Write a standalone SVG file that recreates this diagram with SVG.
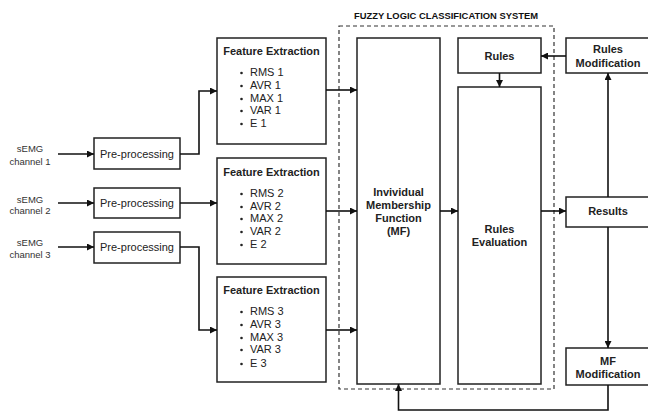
<svg xmlns="http://www.w3.org/2000/svg" width="648" height="412" viewBox="0 0 648 412">
<defs>
<marker id="ah" viewBox="0 0 10 10" refX="10" refY="5" markerWidth="7" markerHeight="7" markerUnits="userSpaceOnUse" orient="auto">
<path d="M0,0 L10,5 L0,10 z" fill="#111"/>
</marker>
</defs>
<style>
.box{fill:#fff;stroke:#222;stroke-width:1.5}
.t{font-family:"Liberation Sans",Arial,sans-serif;font-size:11px;fill:#222}
.b{font-weight:bold}
.c{text-anchor:middle}
.lbl{font-family:"Liberation Sans",Arial,sans-serif;font-size:9.5px;fill:#333;text-anchor:middle}
.ttl{font-family:"Liberation Sans",Arial,sans-serif;font-size:9.4px;font-weight:bold;fill:#111;text-anchor:middle}
.con{fill:none;stroke:#111;stroke-width:1.6;marker-end:url(#ah)}
.dash{fill:none;stroke:#333;stroke-width:1.2;stroke-dasharray:4,3}
.dot{fill:#222}
</style>
<rect width="648" height="412" fill="#fff"/>

<g id="system">
<rect class="dash" x="339" y="26" width="215" height="363"/>
<text class="ttl" x="446" y="18.5">FUZZY LOGIC CLASSIFICATION SYSTEM</text>
</g>

<g id="ch1"><text class="lbl" x="30" y="151.5">sEMG</text><text class="lbl" x="30" y="164.5">channel 1</text></g>
<g id="ch2"><text class="lbl" x="30" y="202.5">sEMG</text><text class="lbl" x="30" y="214">channel 2</text></g>
<g id="ch3"><text class="lbl" x="30" y="245.5">sEMG</text><text class="lbl" x="30" y="257.5">channel 3</text></g>

<g id="pre1"><rect class="box" x="94" y="138" width="86" height="31"/><text class="t c" x="137" y="158">Pre-processing</text></g>
<g id="pre2"><rect class="box" x="94" y="188" width="86" height="30"/><text class="t c" x="137" y="207">Pre-processing</text></g>
<g id="pre3"><rect class="box" x="94" y="232" width="86" height="31"/><text class="t c" x="137" y="251">Pre-processing</text></g>

<g id="fe1">
<rect class="box" x="217" y="38" width="109" height="106"/>
<text class="t b c" x="271.5" y="55">Feature Extraction</text>
<circle class="dot" cx="241.5" cy="73" r="1.3"/><circle class="dot" cx="241.5" cy="86" r="1.3"/><circle class="dot" cx="241.5" cy="99" r="1.3"/><circle class="dot" cx="241.5" cy="111" r="1.3"/><circle class="dot" cx="241.5" cy="124" r="1.3"/>
<text class="t" x="250" y="76">RMS 1</text><text class="t" x="250" y="89">AVR 1</text><text class="t" x="250" y="102">MAX 1</text><text class="t" x="250" y="114">VAR 1</text><text class="t" x="250" y="127">E 1</text>
</g>
<g id="fe2">
<rect class="box" x="217" y="158" width="109" height="106"/>
<text class="t b c" x="271.5" y="176">Feature Extraction</text>
<circle class="dot" cx="241.5" cy="194" r="1.3"/><circle class="dot" cx="241.5" cy="207" r="1.3"/><circle class="dot" cx="241.5" cy="219" r="1.3"/><circle class="dot" cx="241.5" cy="232" r="1.3"/><circle class="dot" cx="241.5" cy="245" r="1.3"/>
<text class="t" x="250" y="197">RMS 2</text><text class="t" x="250" y="210">AVR 2</text><text class="t" x="250" y="222">MAX 2</text><text class="t" x="250" y="235">VAR 2</text><text class="t" x="250" y="248">E 2</text>
</g>
<g id="fe3">
<rect class="box" x="217" y="277" width="109" height="105"/>
<text class="t b c" x="271.5" y="294">Feature Extraction</text>
<circle class="dot" cx="241.5" cy="312" r="1.3"/><circle class="dot" cx="241.5" cy="325" r="1.3"/><circle class="dot" cx="241.5" cy="338" r="1.3"/><circle class="dot" cx="241.5" cy="350" r="1.3"/><circle class="dot" cx="241.5" cy="364" r="1.3"/>
<text class="t" x="250" y="315">RMS 3</text><text class="t" x="250" y="328">AVR 3</text><text class="t" x="250" y="341">MAX 3</text><text class="t" x="250" y="353">VAR 3</text><text class="t" x="250" y="367">E 3</text>
</g>

<g id="mf">
<rect class="box" x="357" y="38" width="83" height="346"/>
<text class="t b c" x="398.5" y="196">Invividual</text><text class="t b c" x="398.5" y="209">Membership</text><text class="t b c" x="398.5" y="222">Function</text><text class="t b c" x="398.5" y="235">(MF)</text>
</g>
<g id="rules"><rect class="box" x="458" y="38" width="83" height="35"/><text class="t b c" x="499.5" y="60">Rules</text></g>
<g id="ruleseval"><rect class="box" x="458" y="87" width="83" height="297"/><text class="t b c" x="499.5" y="233">Rules</text><text class="t b c" x="499.5" y="246">Evaluation</text></g>
<g id="rulesmod"><rect class="box" x="566" y="38" width="84" height="35"/><text class="t b c" x="608" y="53">Rules</text><text class="t b c" x="608" y="67">Modification</text></g>
<g id="results"><rect class="box" x="566" y="197" width="84" height="30"/><text class="t b c" x="608" y="215">Results</text></g>
<g id="mfmod"><rect class="box" x="566" y="348" width="84" height="37"/><text class="t b c" x="608" y="365">MF</text><text class="t b c" x="608" y="378">Modification</text></g>

<g id="connectors">
<path class="con" d="M58,154 H94"/>
<path class="con" d="M58,203 H94"/>
<path class="con" d="M58,247 H94"/>
<path class="con" d="M180,154 H199 V91 H217"/>
<path class="con" d="M180,203 H217"/>
<path class="con" d="M180,247 H199 V330 H217"/>
<path class="con" d="M326,90 H357"/>
<path class="con" d="M326,211 H357"/>
<path class="con" d="M326,330 H357"/>
<path class="con" d="M440,211 H458"/>
<path class="con" d="M499.5,73 V87"/>
<path class="con" d="M541,211 H566"/>
<path class="con" d="M566,56 H541"/>
<path class="con" d="M608,197 V73"/>
<path class="con" d="M608,227 V348"/>
<path class="con" d="M608,385 V410 H398.5 V384"/>
</g>
</svg>
